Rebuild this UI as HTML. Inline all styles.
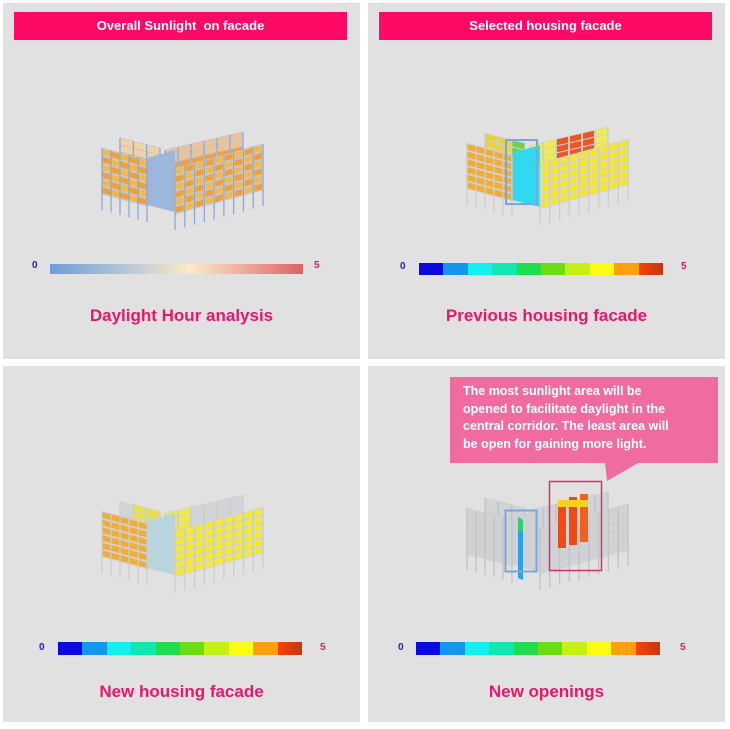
<!DOCTYPE html>
<html><head><meta charset="utf-8"><style>
body{margin:0;width:730px;height:729px;background:#fff;position:relative;overflow:hidden;font-family:"Liberation Sans",sans-serif}
.p{position:absolute;background:#e1e1e1;width:357px;height:356px}
.t{position:absolute;left:11px;width:333px;top:9px;height:28px;background:#fe0a66;color:#fff;font-weight:bold;font-size:13px;line-height:28px;text-align:center}
.c{position:absolute;font-weight:bold;font-size:17px;color:#e5186c;width:100%;text-align:center}
.l{position:absolute;font-weight:bold;font-size:10px}
svg{position:absolute;left:0;top:0}
</style></head><body>
<div class="p" style="left:3px;top:3px"><div class="t">Overall Sunlight&nbsp; on facade</div>
<div style="position:absolute;left:47px;top:261px;width:253px;height:10px;background:linear-gradient(90deg,#6d9ed6,#b6c6d6 30%,#fbebc6 55%,#f0b0a0 75%,#dc6262)"></div>
<div class="l" style="left:29px;top:257px;color:#2020c0">0</div><div class="l" style="left:311px;top:257px;color:#e5186c">5</div>
<div class="c" style="top:303px">Daylight Hour analysis</div></div>
<div class="p" style="left:368px;top:3px"><div class="t">Selected housing facade</div>
<div class="bar" style="position:absolute;left:51px;top:260px;width:244px;height:12px"></div>
<div class="l" style="left:32px;top:258px;color:#2020c0">0</div><div class="l" style="left:313px;top:258px;color:#e5186c">5</div>
<div class="c" style="top:303px">Previous housing facade</div></div>
<div class="p" style="left:3px;top:366px">
<div class="bar" style="position:absolute;left:55px;top:276px;width:244px;height:13px"></div>
<div class="l" style="left:36px;top:276px;color:#2020c0">0</div><div class="l" style="left:317px;top:276px;color:#e5186c">5</div>
<div class="c" style="top:316px">New housing facade</div></div>
<div class="p" style="left:368px;top:366px">
<div class="bar" style="position:absolute;left:48px;top:276px;width:244px;height:13px"></div>
<div class="l" style="left:30px;top:276px;color:#2020c0">0</div><div class="l" style="left:312px;top:276px;color:#e5186c">5</div>
<div class="c" style="top:316px">New openings</div></div>
<svg id="s" width="730" height="729"></svg>
<div style="position:absolute;left:450px;top:377px;width:268px;height:86px;background:#ef6ba0"></div>
<svg width="730" height="729"><polygon points="605,462 640,462 607,481" fill="#ef6ba0"/></svg>
<div style="position:absolute;left:463px;top:383px;color:#fff;font-weight:bold;font-size:12.5px;line-height:17.5px">The most sunlight area will be<br>opened to facilitate daylight in the<br>central corridor. The least area will<br>be open for gaining more light.</div>
<script>
var cols=["#0a0ae0","#1496ec","#14f0f0","#10e8b0","#22dc50","#6cdc14","#c4f014","#fcfc14","#fca010","#f03c0a"];
document.querySelectorAll('.bar').forEach(function(b){var h='';cols.forEach(function(c,i){h+='<div style="float:left;width:10%;height:100%;background:'+(i==9?'linear-gradient(90deg,#f8420a,#c03810)':c)+'"></div>'});b.innerHTML=h;});
var s='';
function face(ox,oy,ux,uy,vx,vy,nc,nr,fn,frame){
 var m='matrix('+ux+' '+uy+' '+vx+' '+vy+' '+ox+' '+oy+')';
 s+='<g transform="'+m+'"><rect x="0" y="0" width="1" height="1" fill="#d2d4d8"/>';
 for(var i=0;i<nc;i++)for(var j=0;j<nr;j++){var c=fn(i,j);if(c)s+='<rect x="'+(i/nc+0.012)+'" y="'+(j/nr+0.02)+'" width="'+(1/nc-0.024)+'" height="'+(1/nr-0.04)+'" fill="'+c+'" opacity="0.92"/>';}
 for(var i=0;i<=nc;i++)s+='<line x1="'+i/nc+'" y1="0" x2="'+i/nc+'" y2="1.35" stroke="'+frame+'" stroke-width="1.3" vector-effect="non-scaling-stroke"/>';
 for(var j=0;j<=nr;j++)s+='<line x1="0" y1="'+j/nr+'" x2="1" y2="'+j/nr+'" stroke="'+frame+'" stroke-width="0.6" stroke-opacity="0.6" vector-effect="non-scaling-stroke"/>';
 s+='</g>';
}
function bld(dx,dy,L,R,BL,BR,C,fr){
 face(dx+120,dy+138,40,10,0,28,3,4,BL,fr);
 face(dx+165,dy+150,78,-18,0,28,6,4,BR,fr);
 s+='<polygon points="'+(dx+147)+','+(dy+158)+' '+(dx+175)+','+(dy+150)+' '+(dx+175)+','+(dy+212)+' '+(dx+147)+','+(dy+205)+'" fill="'+C+'"/>';
 face(dx+102,dy+148,45,12,0,46,5,6,L,fr);
 face(dx+175,dy+168,88,-24,0,46,9,6,R,fr);
}
var gray=function(){return '#cfd1d4'};
var p1=function(i,j){return (i+j)%2?'#f39a2a':'#f6b43e'};
bld(0,0,p1,p1,function(i,j){return j<2?'#f4d0a0':'#f0a040'},function(i,j){return j<2?'#f0c090':'#f29a38'},'#9db6dc','#8aaad4');
bld(365,-5,function(){return '#f2a826'},function(){return '#f8e81c'},function(i,j){return i==2?'#60d040':'#e8d030'},function(i,j){return (i>=2&&i<=4&&j<3)?'#f04a14':'#f2f040'},'#30d8f0','#cccccc');
bld(0,363,function(){return '#f2a82a'},function(){return '#f8ec22'},function(i,j){return i==2&&j>1?'#30d050':(i>0&&j<3?'#e8e040':null)},function(i,j){return i<2&&j<3?'#f4ec30':null},'#b8d4dc','#cccccc');
bld(365,360,gray,gray,function(){return null},function(i,j){return null},'#cfd1d4','#c0c2c5');
s+='<polygon points="518,517 523,520 523,580 518,578" fill="#2ca0e8"/><polygon points="518,517 523,520 523,532 518,530" fill="#30d070"/>';
s+='<g><rect x="558" y="500" width="8" height="48" fill="#f04a18"/><rect x="569" y="497" width="8" height="48" fill="#ee4a1a"/><rect x="580" y="494" width="8" height="48" fill="#f26020"/><rect x="558" y="500" width="30" height="7" fill="#f8d020"/></g>';
s+='<rect x="549.5" y="481.5" width="52" height="89" fill="none" stroke="#e0306a" stroke-width="1.5"/>';
s+='<rect x="505.5" y="510.5" width="31" height="61" fill="none" stroke="#7aa8dc" stroke-width="2"/>';
s+='<rect x="506" y="140" width="31" height="64" fill="none" stroke="#7aa8dc" stroke-width="2"/>';
document.getElementById('s').innerHTML=s;
</script>
</body></html>
